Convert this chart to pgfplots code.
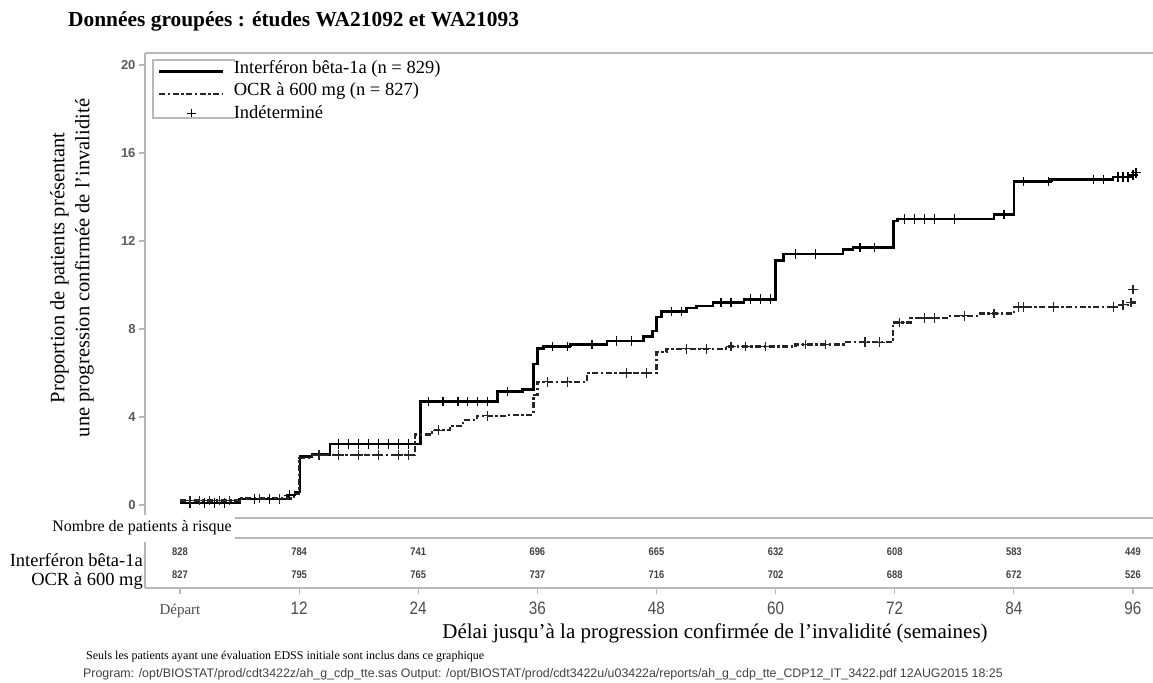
\documentclass[border=0pt]{standalone}
\usepackage{fontspec}
\setmainfont{Liberation Serif}
\newfontfamily\sansf{Liberation Sans}
\newfontfamily\narrowf[FakeStretch=0.85]{Liberation Sans}
\usepackage{pgfplots}
\pgfplotsset{compat=1.18}
\definecolor{axgray}{gray}{0.72}
\pgfplotsset{
  longline/.style={legend image code/.code={\draw[##1] (0bp,-3bp) -- (64bp,-3bp);}},
  plusleg/.style={legend image code/.code={\draw[##1] plot coordinates {(32bp,0bp)};}},
}
\begin{document}
\begin{tikzpicture}
\useasboundingbox (0,0) rectangle (1153bp,-683bp);
% title
\node[anchor=base west,inner sep=0] at (68bp,-26bp) {\fontsize{21.4bp}{25bp}\selectfont\bfseries Données groupées : études WA21092 et WA21093};
\begin{axis}[
  at={(145bp,-588bp)}, anchor=south west,
  scale only axis, width=1008bp, height=535bp,
  xmin=-3.526, xmax=98.02, ymin=-3.773, ymax=20.545,
  axis x line*=bottom, axis y line*=left,
  axis line style={axgray, line width=1.8bp},
  tick align=outside, major tick length=6bp,
  major tick style={axgray, line width=1.2bp},
  /pgf/number format/assume math mode=true,
  xtick={0,12,24,36,48,60,72,84,96},
  xticklabels={{\fontsize{15bp}{18bp}\rmfamily Départ},12,24,36,48,60,72,84,96},
  xticklabel style={anchor=base, yshift=-20bp, font=\fontsize{18bp}{20bp}\narrowf, text=black!70},
  ytick={0,4,8,12,16,20},
  yticklabel style={font=\fontsize{13bp}{15bp}\sansf\bfseries, text=black!65},
  clip=false,
  legend style={at={(axis description cs:0.0129,0.9905)}, anchor=north west,
    draw=none, fill=none, inner sep=0pt, row sep=1.5bp,
    font=\fontsize{18.5bp}{21bp}\selectfont,
    /tikz/every odd column/.style={column sep=7bp},
    nodes={inner xsep=2bp, inner ysep=2bp, text height=13bp, text depth=4bp}},
  legend cell align=left,
]
\addplot[const plot, black, line width=2.6bp, longline]
  coordinates {(0,0.1) (6,0.27) (10.8,0.45) (11.6,0.6) (12.1,2.2) (13.3,2.3) (15.1,2.77) (24.2,4.7) (32,5.15) (34.5,5.25) (35.6,6.4) (36,7.1) (36.6,7.2) (39.3,7.3) (43,7.45) (46.7,7.65) (47.6,7.9) (48,8.55) (48.5,8.8) (51,8.95) (52,9.05) (53.7,9.2) (56.8,9.35) (60,11.1) (60.8,11.4) (66.8,11.6) (67.8,11.7) (71.9,12.9) (72.3,13.0) (82,13.2) (84,14.7) (87.7,14.8) (94,14.9) (96,15.0) (96.3,15.0)};
\addlegendentry{Interféron bêta-1a (n = 829)}
\addplot[const plot, black!85, line width=2.3bp, dash pattern=on 6bp off 2.5bp on 2.5bp off 2.5bp, longline]
  coordinates {(0,0.2) (6,0.3) (11.5,0.5) (12,2.15) (13.3,2.27) (23.7,3.2) (25.4,3.4) (27.2,3.6) (28.5,3.85) (29.9,4.05) (33,4.1) (35.6,5.0) (36,5.6) (41,6.0) (48,6.95) (49,7.1) (55,7.2) (62,7.3) (67,7.4) (71.8,8.3) (73.6,8.5) (77.6,8.6) (80.3,8.7) (84,9.0) (94.5,9.1) (95.5,9.2) (96.3,9.2)};
\addlegendentry{OCR à 600 mg (n = 827)}
% censored marks
\addplot[only marks, mark=+, mark size=4.8bp, black, line width=1.2bp, forget plot]
  coordinates {(1,0.1) (2.5,0.1) (3.5,0.1) (4.5,0.1) (7.5,0.27) (9,0.27) (10,0.27) (11,0.45)
  (16,2.77) (17,2.77) (18,2.77) (19,2.77) (20,2.77) (21,2.77) (22,2.77) (23,2.77)
  (25,4.7) (26.5,4.7) (28,4.7) (29,4.7) (30,4.7) (31,4.7) (33,5.15)
  (37.5,7.2) (39,7.2) (41.5,7.3) (44,7.45) (45.5,7.45) (49.5,8.8) (50.5,8.8) (54.5,9.2) (55.5,9.2) (57.5,9.35) (58.5,9.35) (59.5,9.35)
  (62,11.4) (64,11.4) (68.5,11.7) (70,11.7) (73,13.0) (74,13.0) (75,13.0) (76,13.0) (78,13.0) (83,13.2) (85,14.7) (87.5,14.7) (92,14.8) (93,14.8) (94.5,14.9) (95,14.9) (95.5,14.9) (96,15.0) (96.3,15.1)};
\addplot[only marks, mark=+, mark size=4.8bp, black!85, line width=1.2bp, forget plot]
  coordinates {(1,0.2) (2,0.2) (3,0.2) (4,0.2) (5,0.2) (8,0.3) (10,0.3) (14,2.27) (16,2.27) (18,2.27) (20,2.27) (22,2.27) (23,2.27) (26,3.4) (31,4.05) (37,5.6) (39,5.6) (45,6.0) (47,6.0) (51,7.1) (53,7.1) (55.5,7.2) (57,7.2) (59,7.2) (63,7.3) (65,7.3) (69,7.4) (70.5,7.4) (72.5,8.3) (75,8.5) (76,8.5) (79,8.6) (82,8.7) (84.5,9.0) (85,9.0) (88,9.0) (94,9.0) (95,9.1) (95.8,9.2) (96,9.8)};
\addlegendimage{only marks, mark=+, mark size=4.8bp, black, line width=1.2bp, plusleg}
\addlegendentry{Indéterminé}
% numbers at risk
\addplot[only marks, mark=none, forget plot, nodes near coords, point meta=explicit symbolic,
  nodes near coords style={anchor=center, inner sep=0, font=\fontsize{11bp}{12bp}\narrowf\bfseries, text=black!75}]
  coordinates {(0,-2.14)[828] (12,-2.14)[784] (24,-2.14)[741] (36,-2.14)[696] (48,-2.14)[665] (60,-2.14)[632] (72,-2.14)[608] (84,-2.14)[583] (96,-2.14)[449]
  (0,-3.18)[827] (12,-3.18)[795] (24,-3.18)[765] (36,-3.18)[737] (48,-3.18)[716] (60,-3.18)[702] (72,-3.18)[688] (84,-3.18)[672] (96,-3.18)[526]};
% top frame line and table lines
\draw[axgray, line width=1.8bp] (rel axis cs:0,1) -- (rel axis cs:1,1);
\draw[axgray, line width=1.8bp] (axis cs:-3.526,-0.6) -- (axis cs:98.02,-0.6);
\draw[axgray, line width=1.8bp] (axis cs:-3.526,-1.5) -- (axis cs:98.02,-1.5);
\end{axis}
% legend box
\draw[axgray, line width=1.2bp] (235bp,-60bp) -- (153bp,-60bp) -- (153bp,-118bp) -- (235bp,-118bp);
% at-risk label box
\fill[white] (0bp,-515bp) rectangle (235bp,-542bp);
\node[anchor=base east, inner sep=0] at (232bp,-531bp) {\fontsize{16bp}{19bp}\selectfont Nombre de patients à risque};
\node[anchor=base east, inner sep=0] at (143bp,-566bp) {\fontsize{18.5bp}{22bp}\selectfont Interféron bêta-1a};
\node[anchor=base east, inner sep=0] at (143bp,-585bp) {\fontsize{18.5bp}{22bp}\selectfont OCR à 600 mg};
% y label
\node[rotate=90, align=center, inner sep=0, font=\fontsize{20.5bp}{25bp}\selectfont] at (72bp,-268bp) {Proportion de patients présentant\\ une progression confirmée de l’invalidité};
% x label
\node[anchor=base, inner sep=0] at (715bp,-638bp) {\fontsize{21bp}{25bp}\selectfont Délai jusqu’à la progression confirmée de l’invalidité (semaines)};
% footnotes
\node[anchor=base west, inner sep=0] at (86bp,-659bp) {\fontsize{12bp}{14bp}\selectfont Seuls les patients ayant une évaluation EDSS initiale sont inclus dans ce graphique};
\node[anchor=base west, inner sep=0, text=black!75] at (83bp,-677bp) {\fontsize{12.4bp}{14bp}\sansf Program: /opt/BIOSTAT/prod/cdt3422z/ah\_g\_cdp\_tte.sas Output: /opt/BIOSTAT/prod/cdt3422u/u03422a/reports/ah\_g\_cdp\_tte\_CDP12\_IT\_3422.pdf 12AUG2015 18:25};
\end{tikzpicture}
\end{document}
